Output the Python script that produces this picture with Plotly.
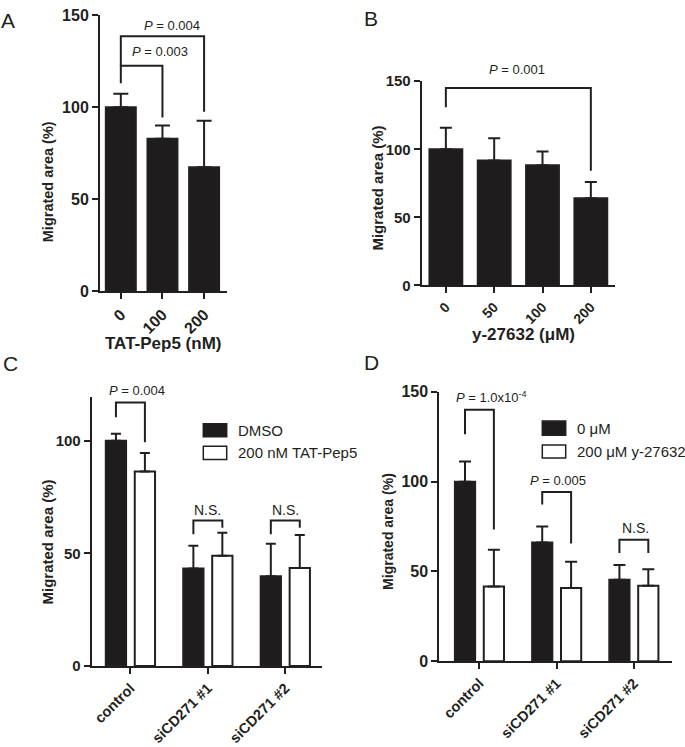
import plotly.graph_objects as go

FONT = "Liberation Sans, Arial, Helvetica, sans-serif"
INK = "#231f20"
BAR = "#1e1c1d"

# ---------------- data ----------------
# Panel A
a_cats = ["0", "100", "200"]
a_vals = [100.0, 82.9, 67.3]
a_errs = [7.4, 7.1, 25.3]
a_xtitle = "TAT-Pep5 (nM)"

# Panel B
b_cats = ["0", "50", "100", "200"]
b_vals = [100.0, 91.7, 88.3, 64.0]
b_errs = [15.8, 16.5, 10.1, 11.9]
b_xtitle = "y-27632 (μM)"

# Panel C
c_cats = ["control", "siCD271 #1", "siCD271 #2"]
c_dmso = [100.0, 43.3, 39.9]
c_dmso_err = [3.2, 10.1, 14.4]
c_tat = [86.4, 49.0, 43.6]
c_tat_err = [8.2, 10.2, 14.6]
c_names = ["DMSO", "200 nM TAT-Pep5"]

# Panel D
d_cats = ["control", "siCD271 #1", "siCD271 #2"]
d_ctrl = [100.0, 66.1, 45.3]
d_ctrl_err = [11.2, 8.9, 8.3]
d_y27 = [41.6, 40.8, 42.0]
d_y27_err = [20.4, 14.6, 9.2]
d_names = ["0 μM", "200 μM y-27632"]

y_title = "Migrated area (%)"

# significance brackets: (from, to, top level, left foot, right foot, label, label x, label y)
a_brackets = [
    (0, 1, 122.6, 113.0, 94.4, "<i>P</i> = 0.003", 0.94, 130.3),
    (0, 2, 138.6, 122.6, 97.6, "<i>P</i> = 0.004", 1.22, 144.2),
]
b_brackets = [
    (0, 3, 145.1, 130.8, 84.2, "<i>P</i> = 0.001", 1.47, 158.0),
]
c_brackets = [
    (0, 0, 117.0, 110.5, 99.4, "<i>P</i> = 0.004", 0.09, 122.1),
    (1, 1, 64.6, 58.5, 61.4, "N.S.", 1.0, 69.0),
    (2, 2, 64.6, 58.5, 61.4, "N.S.", 2.0, 69.0),
]
d_brackets = [
    (0, 0, 140.0, 126.4, 73.4, "<i>P</i> = 1.0x10<sup>-4</sup>", 0.15, 146.7),
    (1, 1, 94.2, 87.3, 65.5, "<i>P</i> = 0.005", 1.02, 100.5),
    (2, 2, 67.6, 60.3, 60.3, "N.S.", 2.02, 74.2),
]

# ---------------- figure ----------------
W, H = 685, 747
fig = go.Figure()

GW = 0.262          # grouped bar width (category units)
GOFF = 0.187        # half distance between grouped bar centres


def px(x):
    return x / W


def py(y):
    return 1 - y / H


def add_bar(xs, ys, errs, xa, ya, width, offset, fill, cap):
    fig.add_trace(go.Bar(
        x=xs, y=ys, width=width, offset=offset, xaxis=xa, yaxis=ya,
        marker=dict(color=fill, line=dict(color=INK, width=2)),
        error_y=dict(type="data", symmetric=False, array=errs,
                     arrayminus=[0] * len(errs), color=INK,
                     thickness=2, width=cap),
        showlegend=False, hoverinfo="skip"))


add_bar(list(range(len(a_cats))), a_vals, a_errs, "x", "y", 0.72, -0.36, BAR, 7.5)
add_bar(list(range(len(b_cats))), b_vals, b_errs, "x2", "y2", 0.68, -0.34, BAR, 6)
add_bar(list(range(len(c_cats))), c_dmso, c_dmso_err, "x3", "y3", GW, -GOFF - GW / 2, BAR, 5)
add_bar(list(range(len(c_cats))), c_tat, c_tat_err, "x3", "y3", GW, GOFF - GW / 2, "white", 5)
add_bar(list(range(len(d_cats))), d_ctrl, d_ctrl_err, "x4", "y4", GW, -GOFF - GW / 2, BAR, 6)
add_bar(list(range(len(d_cats))), d_y27, d_y27_err, "x4", "y4", GW, GOFF - GW / 2, "white", 6)


def xaxis(domain, rng, cats, anchor, size):
    return dict(domain=domain, range=rng, anchor=anchor,
                tickvals=list(range(len(cats))), ticktext=cats, tickangle=-45,
                tickfont=dict(family=FONT, size=size, color=INK, weight="bold"),
                showline=True, linecolor=INK, linewidth=2, ticks="outside",
                ticklen=6, tickwidth=2, tickcolor=INK, showgrid=False,
                zeroline=False, fixedrange=True)


def yaxis(domain, rng, tickvals, anchor, size):
    return dict(domain=domain, range=rng, anchor=anchor, tickvals=tickvals,
                tickfont=dict(family=FONT, size=size, color=INK, weight="bold"),
                showline=True, linecolor=INK, linewidth=2, ticks="outside",
                ticklen=6, tickwidth=2, tickcolor=INK, showgrid=False,
                zeroline=False, fixedrange=True)


A_DOM_Y = (289, 6.5)
B_DOM_Y = (283.3, 74)
C_DOM_Y = (673.3, 397.3)
D_DOM_Y = (668.3, 392.3)
A_RNG, B_RNG, C_RNG, D_RNG = [0, 150], [0, 150], [0, 119.6], [0, 150]

fig.update_layout(
    width=W, height=H, margin=dict(l=0, r=0, t=0, b=0),
    paper_bgcolor="white", plot_bgcolor="white", barmode="overlay",
    showlegend=False,
    xaxis=xaxis([px(100), px(227)], [-0.5, 2.55], a_cats, "y", 16),
    yaxis=yaxis([py(A_DOM_Y[0]), py(A_DOM_Y[1])], A_RNG, [0, 50, 100, 150], "x", 16),
    xaxis2=xaxis([px(421.7), px(615)], [-0.5, 3.5], b_cats, "y2", 14),
    yaxis2=yaxis([py(B_DOM_Y[0]), py(B_DOM_Y[1])], B_RNG, [0, 50, 100, 150], "x2", 15),
    xaxis3=xaxis([px(91.7), px(321.7)], [-0.5, 2.47], c_cats, "y3", 14.5),
    yaxis3=yaxis([py(C_DOM_Y[0]), py(C_DOM_Y[1])], C_RNG, [0, 50, 100], "x3", 15),
    xaxis4=xaxis([px(439.3), px(671.7)], [-0.52, 2.49], d_cats, "y4", 14.5),
    yaxis4=yaxis([py(D_DOM_Y[0]), py(D_DOM_Y[1])], D_RNG, [0, 50, 100, 150], "x4", 16),
)

shapes = []
annotations = []


def add_brackets(brackets, xa, ya, grouped, dom, rng, size_p=13, size_ns=14):
    scale = (dom[0] - dom[1]) / (rng[1] - rng[0])   # pixels per data unit
    for (i, j, top, lfoot, rfoot, label, lx, ly) in brackets:
        if grouped:
            x0, x1 = i - GOFF, j + GOFF
        else:
            x0, x1 = i, j
        path = f"M {x0} {lfoot} L {x0} {top} L {x1} {top} L {x1} {rfoot}"
        shapes.append(dict(type="path", path=path, xref=xa, yref=ya,
                           line=dict(color=INK, width=2)))
        annotations.append(dict(text=label, x=lx, y=top, yshift=(ly - top) * scale,
                                xref=xa, yref=ya,
                                showarrow=False, xanchor="center", yanchor="middle",
                                font=dict(family=FONT, size=size_ns if label == "N.S." else size_p,
                                          color=INK)))


add_brackets(a_brackets, "x", "y", False, A_DOM_Y, A_RNG)
add_brackets(b_brackets, "x2", "y2", False, B_DOM_Y, B_RNG)
add_brackets(c_brackets, "x3", "y3", True, C_DOM_Y, C_RNG)
add_brackets(d_brackets, "x4", "y4", True, D_DOM_Y, D_RNG)

# axis titles
for (txt, x, y, ang, size) in [
    (y_title, 48, 177.5, -90, 14.5),
    (y_title, 378, 184, -90, 15),
    (y_title, 48, 546.7, -90, 15),
    (y_title, 388, 535.8, -90, 14),
    (a_xtitle, 162.5, 343, 0, 17),
    (b_xtitle, 523.3, 334, 0, 17),
]:
    annotations.append(dict(text=txt, x=px(x), y=py(y), xref="paper", yref="paper",
                            showarrow=False, xanchor="center", yanchor="middle",
                            textangle=ang,
                            font=dict(family=FONT, size=size, color=INK, weight="bold")))

# panel letters
for (txt, x, y) in [("A", 8, 12), ("B", 371, 10), ("C", 10, 363), ("D", 371, 362)]:
    annotations.append(dict(text=txt, x=px(x), y=py(y), xref="paper", yref="paper",
                            showarrow=False, xanchor="center", yanchor="middle",
                            font=dict(family=FONT, size=21, color=INK)))

# legends (swatch boxes + labels)
for (names, sx0, sx1, rows) in [
    (c_names, 203.3, 226.7, [(425, 438.3, BAR), (448, 461.7, "white")]),
    (d_names, 542.3, 565.7, [(422.3, 436.7, BAR), (446.7, 460, "white")]),
]:
    for name, (y0, y1, fill) in zip(names, rows):
        shapes.append(dict(type="rect", xref="paper", yref="paper",
                           x0=px(sx0), x1=px(sx1), y0=py(y1), y1=py(y0),
                           fillcolor=fill, line=dict(color=INK, width=1.5)))
        annotations.append(dict(text=name, x=px(sx1 + 9), y=py((y0 + y1) / 2),
                                xref="paper", yref="paper", showarrow=False,
                                xanchor="left", yanchor="middle",
                                font=dict(family=FONT, size=15, color=INK)))

fig.update_layout(shapes=shapes, annotations=annotations)
fig.write_html("out.html", config={"displayModeBar": False},
               post_script="document.body.style.margin='0';document.body.style.overflow='hidden';")
